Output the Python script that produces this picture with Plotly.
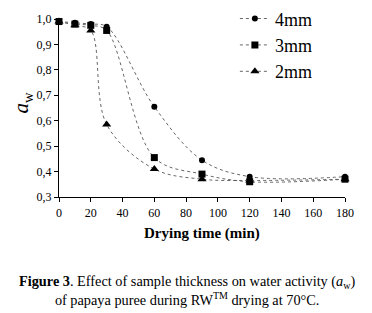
import plotly.graph_objects as go

time_min = [0, 10, 20, 30, 60, 90, 120, 180]
aw_4mm = [0.99, 0.985, 0.98, 0.97, 0.655, 0.445, 0.38, 0.38]
aw_3mm = [0.99, 0.98, 0.975, 0.955, 0.455, 0.39, 0.36, 0.37]
aw_2mm = [0.99, 0.975, 0.955, 0.585, 0.41, 0.37, 0.365, 0.37]
series_names = ["4mm", "3mm", "2mm"]
x_ticks = [0, 20, 40, 60, 80, 100, 120, 140, 160, 180]
y_ticks = [0.3, 0.4, 0.5, 0.6, 0.7, 0.8, 0.9, 1.0]

FONT = "Liberation Serif"
fig = go.Figure()
symbols = ["circle", "square", "triangle-up"]
sizes = [6, 7, 8]
for name, ys, sym, sz in zip(series_names, [aw_4mm, aw_3mm, aw_2mm], symbols, sizes):
    fig.add_trace(go.Scatter(
        x=time_min, y=ys, name=name, mode="lines+markers",
        line=dict(color="#555555", width=0.9, dash="dot", shape="spline", smoothing=1.0),
        marker=dict(symbol=sym, size=sz, color="black"),
        cliponaxis=False,
    ))

fig.update_layout(
    width=372, height=313,
    margin=dict(l=59, r=27, t=19, b=116, autoexpand=False),
    paper_bgcolor="white", plot_bgcolor="white",
    separators=", ",
    font=dict(family=FONT, color="black", size=12),
    showlegend=True,
    legend=dict(x=0.615, y=1.105, xanchor="left", yanchor="top",
                font=dict(family=FONT, size=18, color="black"),
                bgcolor="rgba(0,0,0,0)", tracegroupgap=0),
    xaxis=dict(range=[0, 180], tickvals=x_ticks, showline=True, linecolor="black",
               linewidth=1.2, ticks="outside", ticklen=4, tickcolor="black",
               showgrid=False, zeroline=False, automargin=False,
               tickfont=dict(family=FONT, size=12)),
    yaxis=dict(range=[0.3, 1.0], tickvals=y_ticks, tickformat=".1f", showline=True,
               linecolor="black", linewidth=1.2, ticks="outside", ticklen=4,
               tickcolor="black", showgrid=False, zeroline=False, automargin=False,
               tickfont=dict(family=FONT, size=12)),
    annotations=[
        dict(text="<b>Drying time (min)</b>", xref="paper", yref="paper",
             x=0.5, y=-0.205, xanchor="center", yanchor="middle", showarrow=False,
             font=dict(family=FONT, size=15, color="black")),
        dict(text="<i>a</i><sub>w</sub>", xref="paper", yref="paper",
             x=-0.13, y=0.53, xanchor="center", yanchor="middle", showarrow=False,
             textangle=-90, font=dict(family=FONT, size=21, color="black")),
        dict(text="<b>Figure 3</b>. Effect of sample thickness on water activity (<i>a</i><sub>w</sub>)<br>of papaya puree during RW<sup>TM</sup> drying at 70°C.",
             xref="paper", yref="paper", x=0.45, y=-0.415, xanchor="center", yanchor="top",
             showarrow=False, font=dict(family=FONT, size=14.3, color="black"), align="center"),
    ],
)

fig.write_html("out.html", post_script="document.body.style.margin='0';",
               config={"displayModeBar": False})
